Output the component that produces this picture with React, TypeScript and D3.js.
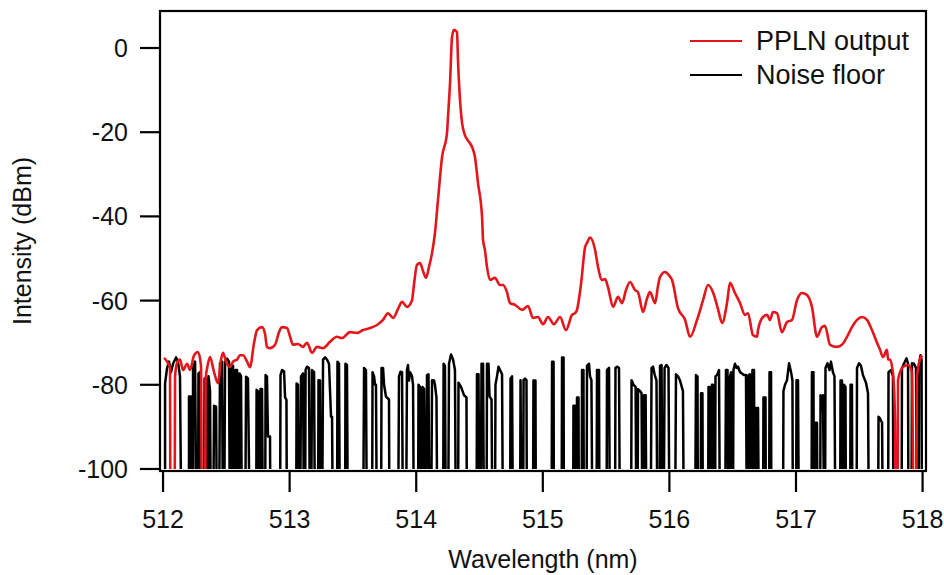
import React from 'react';
import * as d3 from 'd3';

type Pt = [number, number];

const X_TICKS = [512, 513, 514, 515, 516, 517, 518];
const Y_TICKS = [0, -20, -40, -60, -80, -100];
const X_DOMAIN: [number, number] = [511.976, 518.027];
const Y_DOMAIN: [number, number] = [-100.48, 8.79];
const SERIES_NAMES = ['PPLN output', 'Noise floor'];
const X_TITLE = 'Wavelength (nm)';
const Y_TITLE = 'Intensity (dBm)';

// PPLN output spectrum [wavelength nm, dBm]; values below -100 are off-scale dropouts
const PPLN: Pt[] = [
  [512.008, -73.6], [512.032, -74.5], [512.055, -76], [512.059, -120], [512.091, -120], [512.095, -78],
  [512.111, -74.8], [512.134, -74], [512.158, -76.5], [512.19, -75], [512.213, -76.5], [512.245, -73],
  [512.276, -72.2], [512.3, -75.5], [512.308, -120], [512.332, -120], [512.336, -78.9], [512.355, -75],
  [512.371, -73.4], [512.403, -77], [512.434, -79.6], [512.458, -74], [512.474, -72.4], [512.498, -74.5],
  [512.529, -75.8], [512.553, -74.5], [512.585, -74], [512.608, -73], [512.632, -73], [512.664, -74.5],
  [512.687, -75.8], [512.719, -70], [512.743, -67], [512.782, -66.3], [512.806, -68], [512.821, -71],
  [512.845, -71.3], [512.885, -70.5], [512.916, -67.5], [512.94, -66.3], [512.979, -66.5], [513.003, -68.5],
  [513.027, -70.5], [513.066, -70.3], [513.106, -71], [513.137, -70], [513.177, -72.4], [513.216, -71],
  [513.264, -71.3], [513.319, -69.8], [513.374, -68.6], [513.414, -68.9], [513.477, -67.5], [513.532, -67.7],
  [513.58, -67], [513.635, -66.5], [513.69, -65.8], [513.738, -64.6], [513.777, -63], [513.817, -64.1],
  [513.856, -62], [513.888, -60.3], [513.927, -61.5], [513.967, -59.9], [513.983, -56], [514.006, -51.5],
  [514.03, -51.1], [514.054, -53], [514.077, -54.6], [514.101, -52], [514.125, -48.7], [514.148, -44],
  [514.172, -36.1], [514.204, -25.9], [514.243, -20.2], [514.251, -16.4], [514.267, -8.4], [514.283, 2.6],
  [514.299, 4.3], [514.322, 3.8], [514.33, -2.9], [514.346, -12.4], [514.362, -17.8], [514.385, -20.7],
  [514.409, -22], [514.441, -23.5], [514.464, -25.9], [514.488, -32.1], [514.52, -40.1], [514.528, -45.6],
  [514.543, -48], [514.559, -52], [514.583, -55.1], [514.622, -54.6], [514.662, -56.3], [514.686, -56.3],
  [514.717, -58], [514.741, -60.6], [514.78, -61], [514.836, -62.2], [514.883, -61.3], [514.922, -64.1],
  [514.962, -63.9], [515.002, -65.6], [515.041, -63.9], [515.088, -65.6], [515.136, -63.9], [515.183, -67],
  [515.231, -63.4], [515.254, -63], [515.27, -62.2], [515.302, -56], [515.334, -47.3], [515.349, -46.3],
  [515.373, -45], [515.413, -48], [515.436, -52], [515.468, -55.1], [515.492, -54.9], [515.515, -56.8],
  [515.555, -61.5], [515.594, -59.1], [515.626, -60.6], [515.657, -57.5], [515.689, -55.6], [515.728, -57.5],
  [515.752, -58], [515.792, -62.7], [515.823, -59.5], [515.847, -58], [515.887, -60.6], [515.91, -56.5],
  [515.926, -54.4], [515.966, -53.2], [515.997, -54], [516.021, -55.1], [516.068, -61.8], [516.124, -64.6],
  [516.163, -68.6], [516.218, -64.6], [516.266, -59.9], [516.305, -56.3], [516.344, -58], [516.384, -62],
  [516.416, -65.3], [516.455, -60.6], [516.479, -55.8], [516.518, -58.2], [516.558, -60.6], [516.597, -63.4],
  [516.621, -63], [516.66, -68.2], [516.692, -68.6], [516.7, -67], [516.739, -63.9], [516.771, -63.4],
  [516.795, -64.6], [516.818, -62.7], [516.85, -63], [516.889, -67.5], [516.929, -65.1], [516.968, -64.6],
  [517.008, -59.9], [517.047, -58.2], [517.087, -58.7], [517.126, -61.5], [517.166, -68.6], [517.205, -66.3],
  [517.229, -66], [517.269, -70.5], [517.324, -71], [517.363, -70.5], [517.403, -68.6], [517.442, -66.3],
  [517.482, -64.6], [517.521, -63.9], [517.561, -64.6], [517.6, -67], [517.64, -70], [517.664, -71.7],
  [517.687, -73.4], [517.719, -71.7], [517.727, -74], [517.742, -74], [517.766, -77.2], [517.782, -87.6],
  [517.79, -120], [517.802, -120], [517.806, -78.9], [517.845, -75.8], [517.885, -75.3], [517.916, -77],
  [517.932, -120], [517.948, -120], [517.956, -78.1], [517.979, -74.1], [517.995, -73],
];

// Noise floor trace [wavelength nm, dBm]; -120 = below the instrument floor (off-scale)
const NOISE: Pt[] = [
  [512.016, -120], [512.016, -79.7], [512.032, -76], [512.047, -74.5], [512.063, -77], [512.079, -75], [512.103, -73.5], [512.118, -74.5], [512.134, -78], [512.146, -120],
  [512.205, -120], [512.205, -82.8], [512.221, -82.8], [512.225, -120], [512.237, -120], [512.237, -76], [512.253, -74.5], [512.265, -120], [512.276, -120], [512.28, -77.3], [512.292, -77], [512.3, -120],
  [512.324, -120], [512.328, -78.5], [512.34, -78.5], [512.348, -120], [512.355, -120], [512.359, -78], [512.371, -81.2], [512.379, -120],
  [512.395, -120], [512.403, -85], [512.419, -85.2], [512.427, -120], [512.442, -120], [512.45, -74.9], [512.466, -74.5], [512.474, -120],
  [512.482, -120], [512.49, -74.5], [512.506, -73.8], [512.521, -74.5], [512.529, -120], [512.537, -120], [512.541, -75.3], [512.553, -75.5], [512.561, -120],
  [512.569, -120], [512.573, -76.5], [512.585, -76.5], [512.592, -120], [512.6, -120], [512.604, -77.3], [512.616, -78], [512.624, -120],
  [512.648, -120], [512.656, -78.1], [512.671, -78.5], [512.687, -120],
  [512.735, -120], [512.739, -81.2], [512.75, -81.5], [512.758, -120], [512.766, -120], [512.77, -81], [512.782, -81], [512.79, -120],
  [512.806, -120], [512.81, -77.7], [512.821, -78], [512.829, -92.3], [512.845, -92.3], [512.849, -120],
  [512.924, -120], [512.928, -77.7], [512.94, -76.5], [512.956, -76.8], [512.964, -83], [512.975, -83.6], [512.979, -120],
  [513.051, -120], [513.055, -79.7], [513.066, -80], [513.074, -120], [513.082, -120], [513.09, -78], [513.106, -77.3], [513.114, -120],
  [513.122, -120], [513.126, -76.5], [513.137, -75.7], [513.153, -76], [513.161, -120], [513.169, -120], [513.177, -76.5], [513.193, -77], [513.201, -120],
  [513.224, -120], [513.228, -78.9], [513.24, -79], [513.248, -120], [513.256, -120], [513.264, -74], [513.28, -73.5], [513.295, -74], [513.311, -75], [513.327, -87.6], [513.335, -87.6], [513.343, -120],
  [513.374, -120], [513.378, -74.5], [513.39, -75], [513.398, -120], [513.438, -120], [513.441, -75], [513.453, -75.3], [513.461, -120],
  [513.58, -120], [513.588, -76], [513.603, -76.5], [513.611, -120],
  [513.651, -120], [513.655, -77], [513.667, -78], [513.675, -80], [513.682, -80], [513.69, -120],
  [513.722, -120], [513.726, -76], [513.738, -76], [513.746, -80], [513.761, -82.8], [513.785, -83.5], [513.789, -120],
  [513.856, -120], [513.864, -78], [513.876, -76.9], [513.888, -77], [513.896, -120],
  [513.919, -120], [513.927, -76.5], [513.935, -75.3], [513.943, -79], [513.951, -77], [513.967, -78], [513.975, -80], [513.982, -120],
  [514.014, -120], [514.018, -80], [514.03, -80.5], [514.038, -120], [514.046, -120], [514.05, -80.5], [514.062, -81], [514.07, -120],
  [514.077, -120], [514.085, -77.7], [514.097, -77.5], [514.105, -120], [514.117, -120], [514.125, -78.9], [514.141, -79], [514.148, -80], [514.16, -83], [514.168, -120],
  [514.212, -120], [514.216, -75], [514.227, -75.5], [514.235, -120],
  [514.251, -120], [514.259, -75], [514.275, -72.8], [514.291, -74], [514.306, -76.5], [514.314, -120], [514.33, -120], [514.334, -79.5], [514.354, -80.5], [514.378, -82.5], [514.397, -83], [514.401, -120],
  [514.476, -120], [514.48, -77.5], [514.492, -77.5], [514.5, -120], [514.508, -120], [514.516, -75], [514.528, -75], [514.536, -120],
  [514.555, -120], [514.559, -75], [514.571, -75], [514.579, -82.8], [514.595, -83.5], [514.603, -120],
  [514.622, -120], [514.626, -80], [514.638, -78], [514.65, -75.7], [514.662, -76.5], [514.678, -77.5], [514.686, -120],
  [514.741, -120], [514.745, -78.5], [514.757, -78], [514.765, -120],
  [514.82, -120], [514.824, -78.9], [514.832, -120], [514.844, -120], [514.848, -78.9], [514.859, -78.5], [514.871, -78.9], [514.875, -120],
  [514.922, -120], [514.926, -79], [514.942, -79], [514.946, -120],
  [515.069, -120], [515.073, -74.5], [515.085, -74.5], [515.088, -120],
  [515.148, -120], [515.152, -73.5], [515.164, -73.5], [515.167, -120],
  [515.239, -120], [515.242, -85], [515.254, -85], [515.258, -120], [515.266, -120], [515.27, -83], [515.282, -83], [515.286, -120],
  [515.306, -120], [515.31, -76.5], [515.321, -76.5], [515.325, -120],
  [515.345, -120], [515.349, -75.5], [515.365, -75], [515.373, -78], [515.384, -78.9], [515.393, -120],
  [515.424, -120], [515.428, -76.5], [515.444, -76.5], [515.448, -120],
  [515.503, -120], [515.507, -76.5], [515.523, -76], [515.531, -120],
  [515.57, -120], [515.574, -76], [515.586, -75.7], [515.602, -76], [515.61, -120],
  [515.697, -120], [515.701, -78.9], [515.717, -80], [515.733, -80.5], [515.74, -120], [515.748, -120], [515.752, -81], [515.768, -81.5], [515.78, -82], [515.788, -120],
  [515.796, -120], [515.8, -82.5], [515.812, -82.5], [515.82, -120],
  [515.851, -120], [515.859, -76], [515.871, -75.7], [515.883, -77.5], [515.898, -79], [515.906, -120], [515.922, -120], [515.926, -75.5], [515.938, -75.3], [515.946, -120],
  [515.954, -120], [515.962, -76], [515.977, -75.3], [515.993, -76], [516.001, -120],
  [516.044, -120], [516.052, -77.5], [516.068, -78], [516.084, -79], [516.107, -81.5], [516.115, -120],
  [516.202, -120], [516.21, -77.7], [516.222, -78], [516.226, -120],
  [516.246, -120], [516.25, -82], [516.261, -82], [516.265, -120],
  [516.305, -120], [516.309, -80.5], [516.317, -80.5], [516.321, -120],
  [516.333, -120], [516.336, -80], [516.344, -80], [516.352, -120], [516.36, -120], [516.364, -78], [516.376, -77.7], [516.392, -76.5], [516.4, -120],
  [516.439, -120], [516.447, -76.5], [516.459, -76.5], [516.467, -120], [516.475, -120], [516.479, -78.1], [516.487, -77], [516.494, -120],
  [516.502, -120], [516.506, -76.5], [516.518, -75], [516.53, -76], [516.542, -75.7], [516.558, -77], [516.573, -77.3], [516.589, -77.7], [516.605, -77.7], [516.613, -120],
  [516.621, -120], [516.625, -77.7], [516.637, -77.5], [516.645, -120], [516.652, -120], [516.656, -76.5], [516.668, -76.5], [516.676, -120],
  [516.684, -120], [516.688, -85.5], [516.7, -85.5], [516.708, -120],
  [516.739, -120], [516.743, -83], [516.759, -83], [516.763, -120],
  [516.787, -120], [516.791, -77], [516.803, -77], [516.806, -120],
  [516.897, -120], [516.901, -81.5], [516.913, -80], [516.929, -78.9], [516.945, -74.9], [516.961, -77], [516.972, -79], [516.976, -120],
  [517.0, -120], [517.004, -78.9], [517.016, -78.9], [517.024, -120],
  [517.122, -120], [517.126, -77], [517.138, -77], [517.142, -120], [517.15, -120], [517.154, -89], [517.166, -89], [517.17, -120],
  [517.19, -120], [517.194, -82.5], [517.205, -86], [517.213, -82.5], [517.225, -120],
  [517.229, -120], [517.233, -76], [517.249, -74.9], [517.265, -76.5], [517.276, -74.5], [517.292, -77], [517.304, -78], [517.312, -120],
  [517.348, -120], [517.352, -79], [517.363, -79], [517.371, -120], [517.375, -120], [517.379, -80], [517.391, -80.5], [517.395, -120],
  [517.427, -120], [517.431, -80], [517.442, -80], [517.446, -120],
  [517.478, -120], [517.482, -76], [517.498, -74.9], [517.513, -75.5], [517.529, -77.7], [517.553, -79.5], [517.569, -82], [517.577, -120],
  [517.648, -120], [517.652, -87.6], [517.664, -88], [517.68, -89], [517.687, -120],
  [517.727, -120], [517.731, -77], [517.751, -76.5], [517.766, -78], [517.77, -120],
  [517.834, -120], [517.837, -76], [517.853, -75], [517.873, -73.7], [517.885, -75], [517.889, -120],
  [517.912, -120], [517.916, -74.9], [517.932, -75], [517.948, -76], [517.956, -120],
  [517.968, -120], [517.972, -75], [517.984, -73], [517.992, -74], [517.995, -120],
];

const RED = '#e3161c';
const FONT = 'Liberation Sans, Arial, sans-serif';

export default function App() {
  const W = 944;
  const H = 575;
  const left = 160, right = 926, top = 11, bottom = 471;
  const x = d3.scaleLinear().domain(X_DOMAIN).range([left, right]);
  const y = d3.scaleLinear().domain(Y_DOMAIN).range([bottom, top]);
  const noiseLine = d3.line<Pt>().x((d) => x(d[0])).y((d) => y(d[1]));
  const redLine = d3.line<Pt>().x((d) => x(d[0])).y((d) => y(d[1])).curve(d3.curveMonotoneX);
  const clipBottom = y(-100);

  return (
    <svg width={W} height={H} style={{ position: 'absolute', left: 0, top: 0, background: '#fff' }} fontFamily={FONT}>
      <defs>
        <clipPath id="plotClip">
          <rect x={left} y={top} width={right - left} height={clipBottom - top} />
        </clipPath>
      </defs>
      <rect x={0} y={0} width={W} height={H} fill="#fff" />
      <g clipPath="url(#plotClip)">
        <path d={noiseLine(NOISE) || ''} fill="none" stroke="#000" strokeWidth={2.5} strokeLinejoin="round" />
        <path d={redLine(PPLN) || ''} fill="none" stroke={RED} strokeWidth={2.6} strokeLinejoin="round" />
      </g>
      <rect x={left} y={top} width={right - left} height={bottom - top} fill="none" stroke="#000" strokeWidth={2.2} />
      {Y_TICKS.map((t) => (
        <g key={'y' + t}>
          <line x1={left - 20} x2={left} y1={y(t)} y2={y(t)} stroke="#000" strokeWidth={2.2} />
          <text x={128} y={y(t)} dy="0.36em" textAnchor="end" fontSize={25} fill="#111">{t}</text>
        </g>
      ))}
      {X_TICKS.map((t) => (
        <g key={'x' + t}>
          <line x1={x(t)} x2={x(t)} y1={bottom} y2={bottom + 21} stroke="#000" strokeWidth={2.2} />
          <text x={x(t)} y={528} textAnchor="middle" fontSize={25} fill="#111">{t}</text>
        </g>
      ))}
      <text x={(left + right) / 2} y={568} textAnchor="middle" fontSize={25} fill="#111">{X_TITLE}</text>
      <text transform={`translate(31, ${(top + bottom) / 2}) rotate(-90)`} textAnchor="middle" fontSize={25} fill="#111">{Y_TITLE}</text>
      <line x1={690} x2={742} y1={41} y2={41} stroke={RED} strokeWidth={2.2} />
      <text x={756} y={50} fontSize={27} fill="#111">{SERIES_NAMES[0]}</text>
      <line x1={690} x2={742} y1={75} y2={75} stroke="#000" strokeWidth={2.2} />
      <text x={756} y={84} fontSize={27} fill="#111">{SERIES_NAMES[1]}</text>
    </svg>
  );
}
